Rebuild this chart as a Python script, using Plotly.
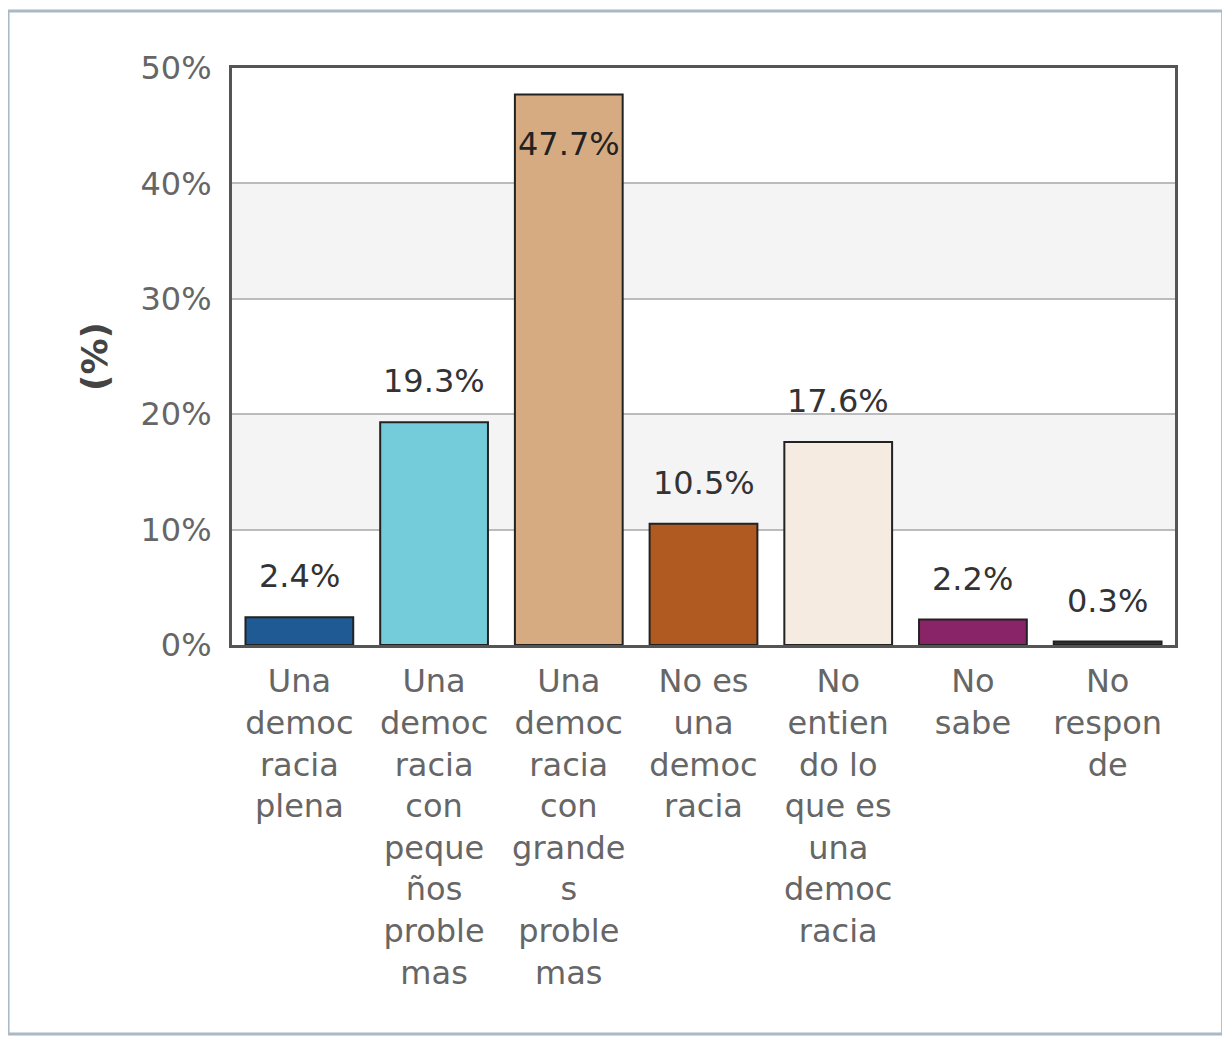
import plotly.graph_objects as go

categories = [
    "Una<br>democ<br>racia<br>plena",
    "Una<br>democ<br>racia<br>con<br>peque<br>ños<br>proble<br>mas",
    "Una<br>democ<br>racia<br>con<br>grande<br>s<br>proble<br>mas",
    "No es<br>una<br>democ<br>racia",
    "No<br>entien<br>do lo<br>que es<br>una<br>democ<br>racia",
    "No<br>sabe",
    "No<br>respon<br>de",
]
values = [2.4, 19.3, 47.7, 10.5, 17.6, 2.2, 0.3]
labels = ["2.4%", "19.3%", "47.7%", "10.5%", "17.6%", "2.2%", "0.3%"]
colors = ["#1f5a94", "#74cbd9", "#d6ab82", "#b05a22", "#f5ebe0", "#8a2468", "#333333"]
y_ticks = [0, 10, 20, 30, 40, 50]
bands = [(10, 20), (30, 40)]

FONT = "Verdana, DejaVu Sans, sans-serif"

fig = go.Figure()
fig.add_trace(go.Bar(
    x=categories, y=values,
    marker=dict(color=colors, line=dict(color="#222222", width=2)),
    width=0.8, hoverinfo="skip",
))

annotations = []
for c, v, t in zip(categories, values, labels):
    if v > 45:
        annotations.append(dict(x=c, y=v, text=t, showarrow=False, yanchor="top",
                                yshift=-28, font=dict(family=FONT, size=32, color="#222")))
    else:
        annotations.append(dict(x=c, y=v, text=t, showarrow=False, yanchor="bottom",
                                yshift=20, font=dict(family=FONT, size=32, color="#333")))

shapes = []
for y0, y1 in bands:
    shapes.append(dict(type="rect", xref="paper", yref="y", x0=0, x1=1, y0=y0, y1=y1,
                       fillcolor="#f4f4f4", line=dict(width=0), layer="below"))
# outer frame
shapes.append(dict(type="rect", xref="paper", yref="paper",
                   x0=-0.2375, x1=1.0505, y0=-0.674, y1=1.099,
                   line=dict(color="#a9b9c6", width=3), fillcolor="rgba(0,0,0,0)"))

fig.update_layout(
    width=1222, height=1034,
    margin=dict(l=224, r=55, t=60, b=397),
    paper_bgcolor="white", plot_bgcolor="white",
    showlegend=False,
    annotations=annotations,
    shapes=shapes,
    font=dict(family=FONT),
)
fig.update_xaxes(
    type="category",
    showline=True, mirror=True, linecolor="#555555", linewidth=3,
    tickfont=dict(family=FONT, size=32, color="#666666"),
    ticks="", showgrid=False, ticklabelstandoff=6,
)
fig.update_yaxes(
    range=[0, 50], tickvals=y_ticks, ticktext=[f"{v}%" for v in y_ticks],
    showline=True, mirror=True, linecolor="#555555", linewidth=3,
    showgrid=True, gridcolor="#bbbbbb", gridwidth=2, zeroline=False,
    tickfont=dict(family=FONT, size=32, color="#666666"),
    ticks="", ticklabelstandoff=11,
    title=dict(text="<b>(%)</b>", font=dict(family=FONT, size=36, color="#444444"), standoff=22),
)

fig.write_html("out.html")
